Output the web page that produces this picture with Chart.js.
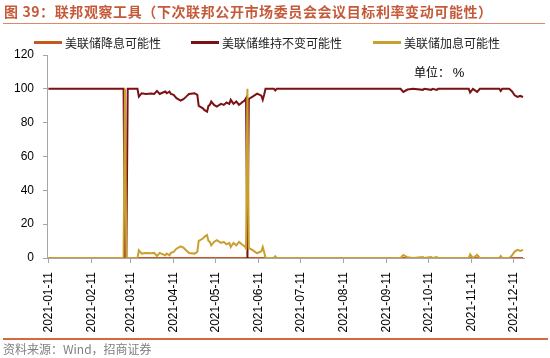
<!DOCTYPE html>
<html><head><meta charset="utf-8">
<script src="https://cdn.jsdelivr.net/npm/chart.js@4.4.1/dist/chart.umd.min.js"></script>
<style>
html,body{margin:0;padding:0;background:#fff;}
#wrap{position:relative;width:550px;height:358px;overflow:hidden;font-family:"Noto Sans CJK SC","Noto Sans",sans-serif;}
#c{position:absolute;left:0;top:0;}
.t{position:absolute;white-space:nowrap;line-height:1;}
.sw{position:absolute;height:3px;width:28px;}
</style></head><body>
<div id="wrap">
<canvas id="c" width="550" height="358"></canvas>
<div class="t" style="left:4px;top:4px;font-size:14px;font-weight:700;color:#C55A3A;letter-spacing:0.6px;">图 39：联邦观察工具（下次联邦公开市场委员会会议目标利率变动可能性）</div>
<div style="position:absolute;left:3px;top:23px;width:542px;height:1px;background:#D98A66"></div>
<div id="legend"></div>
<div class="t" style="left:414px;top:66px;font-size:12px;color:#000;">单位： <span style="font-family:'Liberation Sans',Arial;font-size:13px">%</span></div>
<div style="position:absolute;left:3px;top:338px;width:545px;height:2px;background:#D4693F"></div>
<div class="t" style="left:3px;top:343px;font-size:12px;color:#808080;">资料来源：Wind，招商证券</div>
</div>
<script>
// ---- data ----
const dates = ['2021-01-11','2021-03-06','2021-03-07','2021-03-08','2021-03-09','2021-03-16','2021-03-17','2021-03-19','2021-03-22','2021-03-26','2021-03-28','2021-03-30','2021-04-01','2021-04-02','2021-04-05','2021-04-06','2021-04-08','2021-04-09','2021-04-11','2021-04-13','2021-04-16','2021-04-18','2021-04-20','2021-04-22','2021-04-26','2021-04-28','2021-04-29','2021-05-02','2021-05-03','2021-05-05','2021-05-06','2021-05-07','2021-05-08','2021-05-10','2021-05-12','2021-05-15','2021-05-17','2021-05-19','2021-05-21','2021-05-22','2021-05-24','2021-05-26','2021-05-28','2021-05-30','2021-06-01','2021-06-02','2021-06-03','2021-06-04','2021-06-07','2021-06-10','2021-06-13','2021-06-14','2021-06-15','2021-06-16','2021-06-22','2021-06-23','2021-06-24','2021-09-21','2021-09-23','2021-09-26','2021-09-30','2021-10-07','2021-10-08','2021-10-13','2021-10-14','2021-10-17','2021-10-18','2021-11-09','2021-11-10','2021-11-12','2021-11-13','2021-11-15','2021-11-17','2021-12-01','2021-12-02','2021-12-03','2021-12-08','2021-12-10','2021-12-12','2021-12-14','2021-12-16','2021-12-18'];
const cutProb = [0,0,0,0,0,0,0,0,0,0,0,0,0,0,0,0,0,0,0,0,0,0,0,0,0,0,0,0,0,0,0,0,0,0,0,0,0,0,0,0,0,0,0,0,0,0,0,0,0,0,0,0,0,0,0,0,0,0,0,0,0,0,0,0,0,0,0,0,0,0,0,0,0,0,0,0,0,0,0,0,0,0];
const holdProb = [100,100,0,0,100,100,95.4,97.4,97.0,97.2,97.0,98.8,97.0,97.4,98.4,97.4,98.4,97.0,96.4,94.5,93.1,93.9,95.4,97.0,97.4,96.4,89.9,88.5,87.5,86.5,89.9,90.5,92.5,90.5,89.5,91.1,90.5,91.9,91.1,93.5,91.1,92.5,90.5,91.9,93.1,94.5,0,94.0,95.5,97.2,96.0,93.5,96.5,100,100,99,100,100,98.2,99.6,100,99.4,100,99.4,100,99.4,100,100,97.8,100,99.4,98.2,100,100,98.8,100,100,98.6,96.2,95.2,95.8,95.2];
const hikeProb = [0,0,100,0,0,0,4.6,2.6,3.0,2.8,3.0,1.2,3.0,2.6,1.6,2.6,1.6,3.0,3.6,5.5,6.9,6.1,4.6,3.0,2.6,3.6,10.1,11.5,12.5,13.5,10.1,9.5,7.5,9.5,10.5,8.9,9.5,8.1,8.9,6.5,8.9,7.5,9.5,8.1,6.9,5.5,100,6.0,4.5,2.8,4.0,6.5,3.5,0,0,1,0,0,1.8,0.4,0,0.6,0,0.6,0,0.6,0,0,2.2,0,0.6,1.8,0,0,1.2,0,0,1.4,3.8,4.8,4.2,4.8];
const tickLabels = ['2021-01-11','2021-02-11','2021-03-11','2021-04-11','2021-05-11','2021-06-11','2021-07-11','2021-08-11','2021-09-11','2021-10-11','2021-11-11','2021-12-11'];
const seriesNames = ['美联储降息可能性','美联储维持不变可能性','美联储加息可能性'];
const seriesColors = ['#C5591B','#7B1113','#C9A030'];
const yTicks = [0,20,40,60,80,100,120];

const base = Date.parse(dates[0] + 'T00:00:00Z');
const dayOf = d => (Date.parse(d + 'T00:00:00Z') - base) / 864e5;
const series = [cutProb, holdProb, hikeProb];

// HTML legend
const legendPos = [[34,65],[191,222],[373,404]];
const lg = document.getElementById('legend');
seriesNames.forEach((n,i)=>{
  const s = document.createElement('div'); s.className='sw';
  s.style.left = legendPos[i][0]+'px'; s.style.top='41px'; s.style.background=seriesColors[i];
  lg.appendChild(s);
  const t = document.createElement('div'); t.className='t';
  t.style.left = legendPos[i][1]+'px'; t.style.top='37px'; t.style.fontSize='12px'; t.style.color='#222';
  t.textContent = n; lg.appendChild(t);
});

const drawOrder = [2,1,0];
new Chart(document.getElementById('c'), {
  type: 'line',
  data: {
    datasets: series.map((vals,i)=>({
      label: seriesNames[i],
      data: dates.map((d,j)=>({x: dayOf(d), y: vals[j]})),
      borderColor: seriesColors[i],
      backgroundColor: seriesColors[i],
      borderWidth: 2,
      pointRadius: 0,
      tension: 0,
      order: drawOrder[i]
    }))
  },
  options: {
    responsive: false,
    animation: false,
    devicePixelRatio: 1,
    layout: {padding: {top: 55, right: 26, left: 0, bottom: 0}},
    plugins: {legend: {display: false}, tooltip: {enabled: false}},
    scales: {
      x: {
        type: 'linear',
        min: -1, max: 341.7,
        afterFit: s => { s.height = 100; },
        afterBuildTicks: s => { s.ticks = tickLabels.map(l => ({value: dayOf(l)})); },
        border: {display: true, color: '#A6A6A6', width: 1},
        grid: {drawOnChartArea: false, drawTicks: true, tickLength: 5, color: '#A6A6A6'},
        ticks: {
          autoSkip: false, minRotation: 90, maxRotation: 90, padding: 9,
          color: '#000', font: {family: 'Liberation Sans, Arial', size: 12},
          callback: (v, idx) => tickLabels[idx]
        }
      },
      y: {
        min: 0, max: 120,
        afterFit: s => { s.width = 47; },
        afterBuildTicks: s => { s.ticks = yTicks.map(v => ({value: v})); },
        border: {display: true, color: '#A6A6A6', width: 1},
        grid: {drawOnChartArea: false, drawTicks: true, tickLength: 4, color: '#A6A6A6'},
        ticks: {padding: 9, color: '#000', font: {family: 'Liberation Sans, Arial', size: 12}}
      }
    }
  }
});
</script>
</body></html>
